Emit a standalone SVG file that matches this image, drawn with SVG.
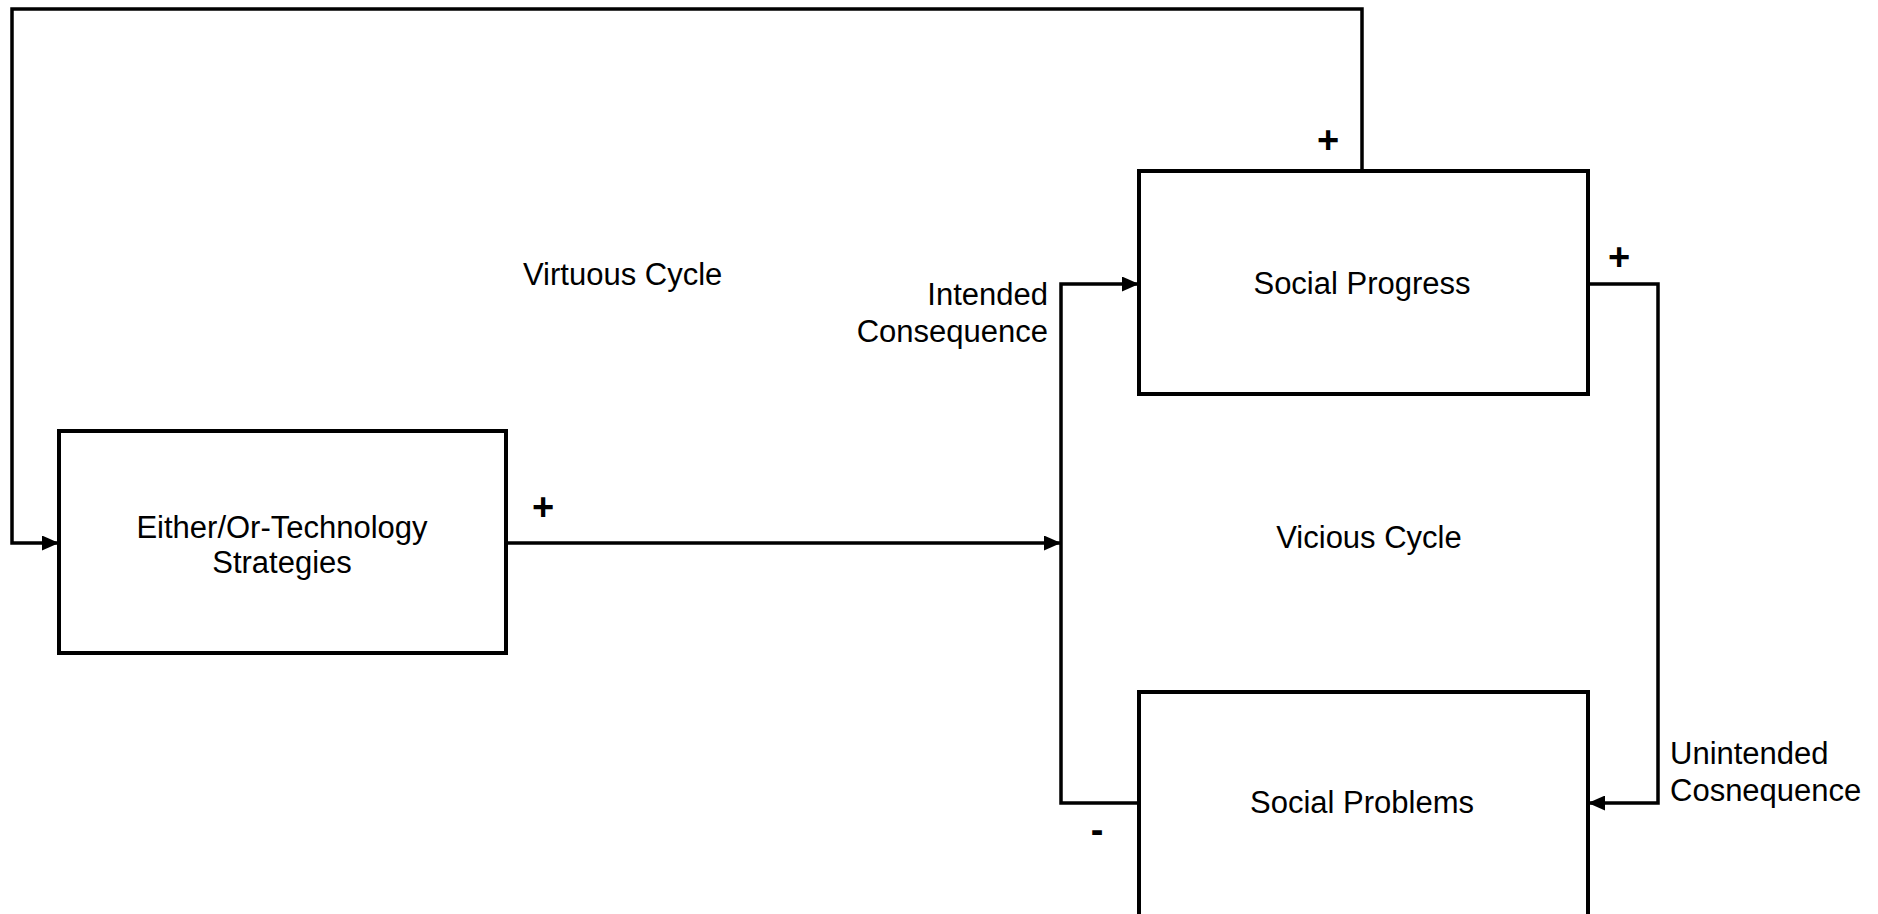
<svg xmlns="http://www.w3.org/2000/svg" width="1878" height="914" viewBox="0 0 1878 914">
<style>
.box{fill:#fff;stroke:#000;stroke-width:4}
.ln{fill:none;stroke:#000;stroke-width:3.5}
text{font-family:"Liberation Sans",Arial,sans-serif;font-size:31px;fill:#000}
.sign{font-size:38px;font-weight:bold}
</style>
<defs>
<marker id="arr" markerWidth="17" markerHeight="15" refX="16" refY="7.5" orient="auto" markerUnits="userSpaceOnUse">
<path d="M0,0 L17,7.5 L0,15 Z" fill="#000"/>
</marker>
</defs>
<rect width="1878" height="914" fill="#fff"/>
<g id="connectors">
<path class="ln" d="M1362,171 V9 H12 V543 H58" marker-end="url(#arr)"/>
<path class="ln" d="M506,543 H1060" marker-end="url(#arr)"/>
<path class="ln" d="M1139,803 H1061 V284 H1138" marker-end="url(#arr)"/>
<path class="ln" d="M1588,284 H1658 V803 H1589" marker-end="url(#arr)"/>
</g>
<g id="either-or">
<rect class="box" x="59" y="431" width="447" height="222"/>
<text x="282" y="538" text-anchor="middle">Either/Or-Technology</text>
<text x="282" y="573" text-anchor="middle">Strategies</text>
</g>
<g id="social-progress">
<rect class="box" x="1139" y="171" width="449" height="223"/>
<text x="1362" y="294" text-anchor="middle">Social Progress</text>
</g>
<g id="social-problems">
<rect class="box" x="1139" y="692" width="449" height="226"/>
<text x="1362" y="813" text-anchor="middle">Social Problems</text>
</g>
<g id="labels">
<text x="523" y="285">Virtuous Cycle</text>
<text x="1369" y="548" text-anchor="middle">Vicious Cycle</text>
<text x="1048" y="305" text-anchor="end">Intended</text>
<text x="1048" y="342" text-anchor="end">Consequence</text>
<text x="1670" y="764">Unintended</text>
<text x="1670" y="801">Cosnequence</text>
<text class="sign" x="543" y="520" text-anchor="middle">+</text>
<text class="sign" x="1328" y="153" text-anchor="middle">+</text>
<text class="sign" x="1619" y="270" text-anchor="middle">+</text>
<text class="sign" x="1097" y="843" text-anchor="middle">-</text>
</g>
</svg>
